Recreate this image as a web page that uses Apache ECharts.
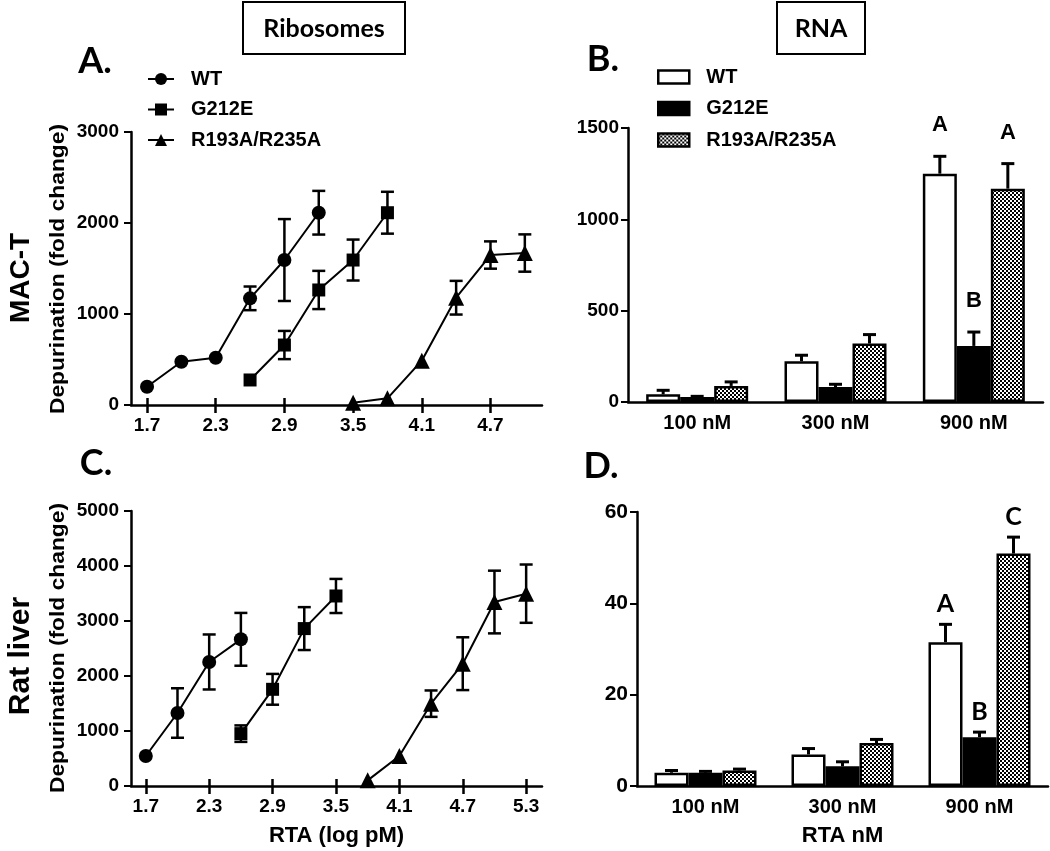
<!DOCTYPE html>
<html><head><meta charset="utf-8">
<script src="https://cdn.jsdelivr.net/npm/echarts@6/dist/echarts.min.js"></script>
<style>
html,body{margin:0;padding:0;background:#fff;}
#left{position:absolute;left:0;top:0;width:560px;height:851px;}
#right{position:absolute;left:560px;top:0;width:490px;height:851px;}
</style>
</head><body><div id="left"></div><div id="right"></div>
<script>
// ---------- DATA ----------
const seriesNames = ['WT', 'G212E', 'R193A/R235A'];
// Panel A (MAC-T ribosomes)
const a_wt_x = [1.7, 2.0, 2.3, 2.6, 2.9, 3.2];
const a_wt_y = [200, 475, 520, 1172, 1593, 2113];
const a_wt_e = [0, 0, 0, 130, 450, 240];
const a_g_x = [2.6, 2.9, 3.2, 3.5, 3.8];
const a_g_y = [275, 659, 1264, 1593, 2113];
const a_g_e = [0, 155, 210, 225, 230];
const a_r_x = [3.5, 3.8, 4.1, 4.4, 4.7, 5.0];
const a_r_y = [25, 73, 487, 1179, 1648, 1670];
const a_r_e = [0, 0, 0, 185, 150, 205];
const a_ticks = [1.7, 2.3, 2.9, 3.5, 4.1, 4.7];
// Panel C (Rat liver ribosomes)
const c_wt_x = [1.7, 2.0, 2.3, 2.6];
const c_wt_y = [545, 1327, 2255, 2667];
const c_wt_e = [0, 450, 500, 480];
const c_g_x = [2.6, 2.9, 3.2, 3.5];
const c_g_y = [952, 1758, 2862, 3455];
const c_g_e = [150, 280, 390, 310];
const c_r_x = [3.8, 4.1, 4.4, 4.7, 5.0, 5.3];
const c_r_y = [103, 545, 1497, 2224, 3345, 3497];
const c_r_e = [0, 0, 240, 480, 570, 530];
const c_ticks = [1.7, 2.3, 2.9, 3.5, 4.1, 4.7, 5.3];
// Panel B (MAC-T RNA)
const rnaCats = ['100 nM', '300 nM', '900 nM'];
const b_wt = [42, 223, 1250];
const b_wt_e = [22, 33, 95];
const b_g = [27, 82, 307];
const b_g_e = [4, 15, 76];
const b_r = [88, 320, 1168];
const b_r_e = [22, 49, 137];
const b_sig = [['', '', 'A'], ['', '', 'B'], ['', '', 'A']];
// Panel D (Rat liver RNA)
const d_wt = [2.9, 6.9, 31.5];
const d_wt_e = [0.5, 1.3, 3.9];
const d_g = [2.9, 4.3, 10.7];
const d_g_e = [0.3, 1.0, 1.1];
const d_r = [3.4, 9.4, 50.9];
const d_r_e = [0.3, 0.8, 3.6];
const d_sig = [['', '', 'A'], ['', '', 'B'], ['', '', 'C']];
const yTitle = 'Depurination (fold change)';

// ---------- STYLE ----------
const ARIAL = '"Liberation Sans", Arial, sans-serif';
const CAL = 'Lato, "Open Sans", sans-serif';
const BLK = '#000';
const AXW = 2.5;

function checker() {
  const c = document.createElement('canvas');
  c.width = 4; c.height = 4;
  const g = c.getContext('2d');
  g.fillStyle = '#fff'; g.fillRect(0, 0, 4, 4);
  g.fillStyle = '#000'; g.fillRect(0, 0, 2, 2); g.fillRect(2, 2, 2, 2);
  return c;
}
const PATTERN = { image: checker(), repeat: 'repeat' };

// ---------- LEFT (line panels A, C) ----------
function zip(xs, ys) { return xs.map((x, i) => [x, ys[i]]); }
function zip3(xs, ys, es) { return xs.map((x, i) => [x, ys[i], es[i]]); }

function lineErr(params, api) {
  const x = api.value(0), y = api.value(1), e = api.value(2);
  if (!e) return null;
  const hi = api.coord([x, y + e]), lo = api.coord([x, y - e]);
  const w = 6.5, st = { stroke: BLK, lineWidth: 2.5 };
  return { type: 'group', children: [
    { type: 'line', shape: { x1: hi[0], y1: hi[1], x2: lo[0], y2: lo[1] }, style: st },
    { type: 'line', shape: { x1: hi[0] - w, y1: hi[1], x2: hi[0] + w, y2: hi[1] }, style: st },
    { type: 'line', shape: { x1: lo[0] - w, y1: lo[1], x2: lo[0] + w, y2: lo[1] }, style: st }
  ]};
}

const symbols = ['circle', 'rect', 'triangle'];
const symSizes = [14, 13, 16];

function lineSet(gi, sets) {
  const out = [];
  sets.forEach((s, i) => {
    out.push({ type: 'custom', xAxisIndex: gi * 2, yAxisIndex: gi, renderItem: lineErr,
      data: zip3(s[0], s[1], s[2]), encode: { x: 0, y: 1 }, z: 1, silent: true });
    out.push({ type: 'line', name: seriesNames[i], xAxisIndex: gi * 2, yAxisIndex: gi,
      data: zip(s[0], s[1]), symbol: symbols[i], symbolSize: symSizes[i],
      color: BLK, itemStyle: { color: BLK }, lineStyle: { color: BLK, width: 2 }, z: 3 });
  });
  return out;
}

function xVal(gi, min, max, ticks, name) {
  const lab = { show: true, customValues: ticks, formatter: v => v.toFixed(1), color: BLK,
    fontFamily: ARIAL, fontWeight: 'bold', fontSize: 19, margin: 11 };
  return [
    { type: 'value', gridIndex: gi, min: min, max: max, splitLine: { show: false },
      axisLine: { lineStyle: { color: BLK, width: AXW } },
      axisTick: { customValues: ticks, length: 8, lineStyle: { color: BLK, width: 2.5 } },
      axisLabel: lab, name: name || '', nameLocation: 'middle', nameGap: 39,
      nameTextStyle: { fontFamily: ARIAL, fontWeight: 'bold', fontSize: 22, color: BLK } },
    { type: 'value', gridIndex: gi, min: min, max: max, position: 'bottom', splitLine: { show: false },
      axisLine: { show: false }, axisLabel: { show: false },
      axisTick: { customValues: ticks, inside: true, length: 7, lineStyle: { color: BLK, width: 2.5 } } }
  ];
}
function yVal(gi, max, interval, fs, margin) {
  return { type: 'value', gridIndex: gi, min: 0, max: max, interval: interval, splitLine: { show: false },
    axisLine: { show: true, lineStyle: { color: BLK, width: AXW } },
    axisTick: { show: true, length: 7, lineStyle: { color: BLK, width: 2 } },
    axisLabel: { color: BLK, fontFamily: ARIAL, fontWeight: 'bold', fontSize: fs, margin: margin,
      formatter: v => String(v) } };
}

const left = echarts.init(document.getElementById('left'), null, { renderer: 'canvas' });
left.setOption({
  animation: false,
  backgroundColor: '#fff',
  grid: [
    { left: 131, top: 132, width: 411, height: 273 },
    { left: 131, top: 511, width: 411, height: 275 }
  ],
  xAxis: [].concat(xVal(0, 1.56, 5.15, a_ticks), xVal(1, 1.56, 5.45, c_ticks, 'RTA (log pM)')),
  yAxis: [yVal(0, 3000, 1000, 19, 12), yVal(1, 5000, 1000, 19, 12)],
  legend: { data: seriesNames, orient: 'vertical', left: 147, top: 69, padding: 0, itemWidth: 26, itemHeight: 15,
    itemGap: 10.5, selectedMode: false,
    textStyle: { fontFamily: ARIAL, fontWeight: 'bold', fontSize: 20, color: BLK, lineHeight: 20,
      padding: [0, 0, 0, 12] } },
  series: [].concat(
    lineSet(0, [[a_wt_x, a_wt_y, a_wt_e], [a_g_x, a_g_y, a_g_e], [a_r_x, a_r_y, a_r_e]]),
    lineSet(1, [[c_wt_x, c_wt_y, c_wt_e], [c_g_x, c_g_y, c_g_e], [c_r_x, c_r_y, c_r_e]])
  ),
  graphic: [
    { type: 'rect', shape: { x: 243, y: 2, width: 162, height: 52 }, style: { fill: '#fff', stroke: BLK, lineWidth: 2 } },
    { type: 'text', x: 324, y: 29, style: { text: 'Ribosomes', font: 'bold 25px ' + CAL, fill: BLK, textAlign: 'center', textVerticalAlign: 'middle' } },
    { type: 'text', x: 95, y: 61, style: { text: 'A.', font: 'bold 36px ' + CAL, fill: BLK, textAlign: 'center', textVerticalAlign: 'middle' } },
    { type: 'text', x: 96, y: 463, style: { text: 'C.', font: 'bold 36px ' + CAL, fill: BLK, textAlign: 'center', textVerticalAlign: 'middle' } },
    { type: 'text', x: 21, y: 278, rotation: Math.PI / 2, style: { text: 'MAC-T', font: 'bold 28px ' + ARIAL, fill: BLK, textAlign: 'center', textVerticalAlign: 'middle' } },
    { type: 'text', x: 21, y: 656, rotation: Math.PI / 2, style: { text: 'Rat liver', font: 'bold 30px ' + ARIAL, fill: BLK, textAlign: 'center', textVerticalAlign: 'middle' } },
    { type: 'text', x: 58, y: 269, rotation: Math.PI / 2, scaleX: 1.14, style: { text: yTitle, font: 'bold 20px ' + ARIAL, fill: BLK, textAlign: 'center', textVerticalAlign: 'middle' } },
    { type: 'text', x: 58, y: 648, rotation: Math.PI / 2, scaleX: 1.14, style: { text: yTitle, font: 'bold 20px ' + ARIAL, fill: BLK, textAlign: 'center', textVerticalAlign: 'middle' } }
  ]
});

// ---------- RIGHT (bar panels B, D) ----------
const BAR_W = 34;
const barFills = ['#fff', '#000', PATTERN];

function barErrFactory(i, sig, gap, font) {
  return function (params, api) {
    const c = api.value(0), v = api.value(1), e = api.value(2);
    const base = api.coord([c, v]);
    const top = api.coord([c, v + e]);
    const x = base[0] + (i - 1) * BAR_W;
    const w = 6.5, st = { stroke: BLK, lineWidth: 3 };
    const ch = [
      { type: 'line', shape: { x1: x, y1: base[1], x2: x, y2: top[1] }, style: st },
      { type: 'line', shape: { x1: x - w, y1: top[1], x2: x + w, y2: top[1] }, style: st }
    ];
    const t = sig[i][params.dataIndex];
    if (t) ch.push({ type: 'text', style: { text: t, x: x, y: top[1] - gap, font: font, fill: BLK,
      textAlign: 'center', textVerticalAlign: 'bottom' } });
    return { type: 'group', children: ch };
  };
}

function barSet(gi, sets, sig, gap, font) {
  const out = [];
  sets.forEach((s, i) => {
    out.push({ type: 'bar', name: seriesNames[i], xAxisIndex: gi, yAxisIndex: gi, data: s[0],
      barWidth: BAR_W, barGap: '0%',
      itemStyle: { color: barFills[i], borderColor: BLK, borderWidth: 2.5 }, z: 2 });
  });
  sets.forEach((s, i) => {
    out.push({ type: 'custom', xAxisIndex: gi, yAxisIndex: gi, silent: true, z: 1,
      renderItem: barErrFactory(i, sig, gap, font),
      data: s[0].map((v, k) => [k, v, s[1][k]]), encode: { x: 0, y: 1 } });
  });
  return out;
}

function xCat(gi, name) {
  return { type: 'category', gridIndex: gi, data: rnaCats,
    axisLine: { lineStyle: { color: BLK, width: AXW } }, axisTick: { show: false },
    axisLabel: { color: BLK, fontFamily: ARIAL, fontWeight: 'bold', fontSize: 20, margin: 11 },
    name: name || '', nameLocation: 'middle', nameGap: 39,
    nameTextStyle: { fontFamily: ARIAL, fontWeight: 'bold', fontSize: 22, color: BLK } };
}

const right = echarts.init(document.getElementById('right'), null, { renderer: 'canvas' });
right.setOption({
  animation: false,
  backgroundColor: '#fff',
  grid: [
    { left: 68, top: 128, width: 415, height: 274 },
    { left: 77, top: 512, width: 411, height: 274 }
  ],
  xAxis: [xCat(0), xCat(1, 'RTA nM')],
  yAxis: [yVal(0, 1500, 500, 19, 9), yVal(1, 60, 20, 21, 9)],
  legend: { data: seriesNames, orient: 'vertical', left: 97, top: 67, padding: 0, itemWidth: 31, itemHeight: 13,
    itemGap: 11.5, icon: 'rect', selectedMode: false,
    itemStyle: { borderColor: BLK, borderWidth: 2.5 },
    textStyle: { fontFamily: ARIAL, fontWeight: 'bold', fontSize: 20, color: BLK, lineHeight: 20,
      padding: [0, 0, 0, 12] } },
  series: [].concat(
    barSet(0, [[b_wt, b_wt_e], [b_g, b_g_e], [b_r, b_r_e]], b_sig, 20, 'bold 22px ' + ARIAL),
    barSet(1, [[d_wt, d_wt_e], [d_g, d_g_e], [d_r, d_r_e]], d_sig, 8, 'bold 25px ' + CAL)
  ),
  graphic: [
    { type: 'rect', shape: { x: 217, y: 2, width: 88, height: 52 }, style: { fill: '#fff', stroke: BLK, lineWidth: 2 } },
    { type: 'text', x: 261, y: 29, style: { text: 'RNA', font: 'bold 25px ' + CAL, fill: BLK, textAlign: 'center', textVerticalAlign: 'middle' } },
    { type: 'text', x: 43, y: 59, style: { text: 'B.', font: 'bold 36px ' + CAL, fill: BLK, textAlign: 'center', textVerticalAlign: 'middle' } },
    { type: 'text', x: 41, y: 466, style: { text: 'D.', font: 'bold 36px ' + CAL, fill: BLK, textAlign: 'center', textVerticalAlign: 'middle' } }
  ]
});
</script>
</body></html>
